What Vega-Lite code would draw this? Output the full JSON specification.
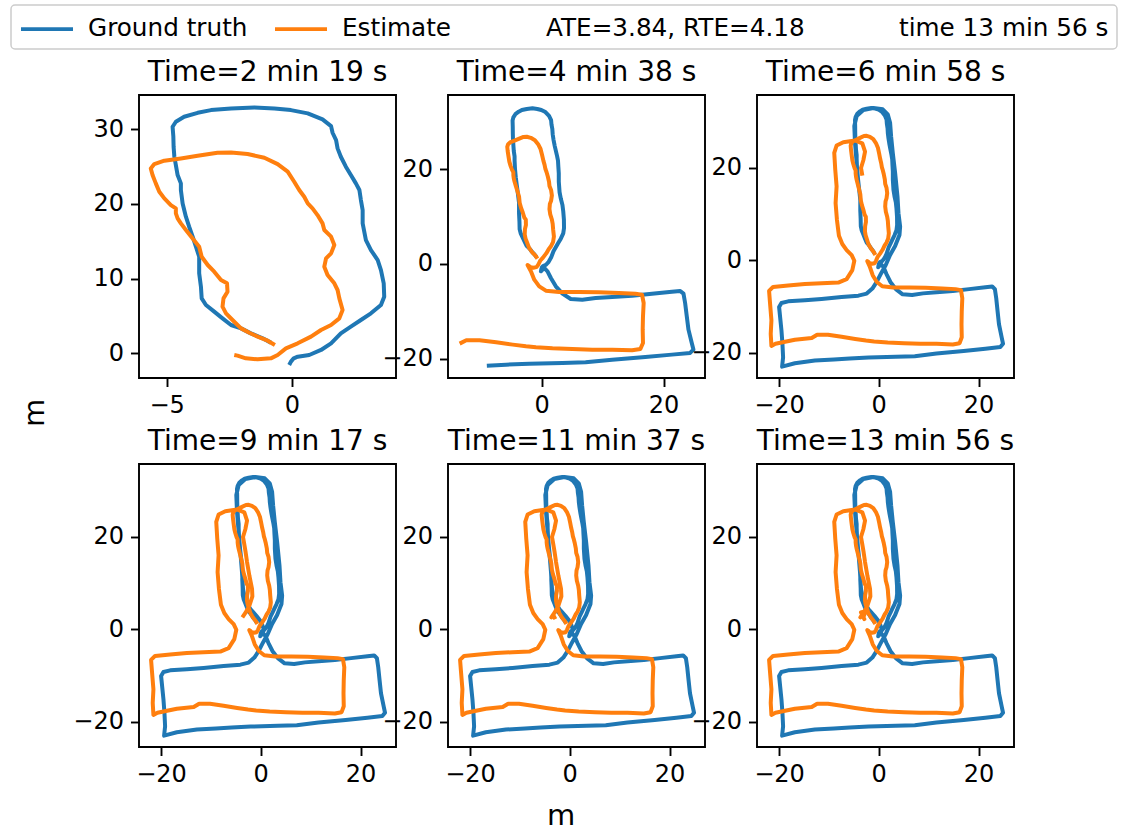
{
  "$schema": "https://vega.github.io/schema/vega-lite/v6.json",
  "padding": {"left": 10, "top": 4, "right": 5, "bottom": 4},
  "background": "white",
  "datasets": {
    "trajectories": [
      {"series":"Ground truth","t":0,"x":-0.84,"y":1.43},
      {"series":"Ground truth","t":2,"x":-1.17,"y":2.01},
      {"series":"Ground truth","t":4,"x":-1.64,"y":2.67},
      {"series":"Ground truth","t":6,"x":-2.03,"y":3.34},
      {"series":"Ground truth","t":8,"x":-2.43,"y":3.79},
      {"series":"Ground truth","t":10,"x":-2.77,"y":4.68},
      {"series":"Ground truth","t":12,"x":-3.10,"y":5.57},
      {"series":"Ground truth","t":14,"x":-3.43,"y":6.46},
      {"series":"Ground truth","t":16,"x":-3.60,"y":7.35},
      {"series":"Ground truth","t":18,"x":-3.63,"y":8.91},
      {"series":"Ground truth","t":20,"x":-3.70,"y":10.70},
      {"series":"Ground truth","t":22,"x":-3.70,"y":12.92},
      {"series":"Ground truth","t":24,"x":-3.83,"y":14.26},
      {"series":"Ground truth","t":26,"x":-3.96,"y":15.60},
      {"series":"Ground truth","t":28,"x":-4.10,"y":16.93},
      {"series":"Ground truth","t":30,"x":-4.23,"y":18.27},
      {"series":"Ground truth","t":32,"x":-4.36,"y":20.05},
      {"series":"Ground truth","t":34,"x":-4.43,"y":21.84},
      {"series":"Ground truth","t":36,"x":-4.43,"y":22.73},
      {"series":"Ground truth","t":38,"x":-4.56,"y":23.84},
      {"series":"Ground truth","t":40,"x":-4.63,"y":25.18},
      {"series":"Ground truth","t":42,"x":-4.69,"y":26.29},
      {"series":"Ground truth","t":44,"x":-4.72,"y":27.63},
      {"series":"Ground truth","t":46,"x":-4.73,"y":28.97},
      {"series":"Ground truth","t":48,"x":-4.76,"y":30.30},
      {"series":"Ground truth","t":50,"x":-4.63,"y":30.97},
      {"series":"Ground truth","t":52,"x":-4.30,"y":31.64},
      {"series":"Ground truth","t":54,"x":-3.76,"y":32.17},
      {"series":"Ground truth","t":56,"x":-3.23,"y":32.53},
      {"series":"Ground truth","t":58,"x":-2.43,"y":32.75},
      {"series":"Ground truth","t":60,"x":-1.50,"y":32.89},
      {"series":"Ground truth","t":62,"x":-0.70,"y":32.75},
      {"series":"Ground truth","t":64,"x":-0.04,"y":32.53},
      {"series":"Ground truth","t":66,"x":0.63,"y":32.09},
      {"series":"Ground truth","t":68,"x":1.22,"y":31.28},
      {"series":"Ground truth","t":70,"x":1.56,"y":30.39},
      {"series":"Ground truth","t":72,"x":1.62,"y":29.50},
      {"series":"Ground truth","t":74,"x":1.76,"y":28.52},
      {"series":"Ground truth","t":76,"x":1.82,"y":27.41},
      {"series":"Ground truth","t":78,"x":1.95,"y":26.29},
      {"series":"Ground truth","t":80,"x":2.15,"y":24.96},
      {"series":"Ground truth","t":82,"x":2.35,"y":23.84},
      {"series":"Ground truth","t":84,"x":2.55,"y":22.73},
      {"series":"Ground truth","t":86,"x":2.69,"y":21.84},
      {"series":"Ground truth","t":88,"x":2.75,"y":20.50},
      {"series":"Ground truth","t":90,"x":2.82,"y":19.16},
      {"series":"Ground truth","t":92,"x":2.82,"y":17.38},
      {"series":"Ground truth","t":94,"x":2.95,"y":15.15},
      {"series":"Ground truth","t":96,"x":3.15,"y":13.81},
      {"series":"Ground truth","t":98,"x":3.42,"y":12.48},
      {"series":"Ground truth","t":100,"x":3.55,"y":11.14},
      {"series":"Ground truth","t":102,"x":3.66,"y":9.36},
      {"series":"Ground truth","t":104,"x":3.68,"y":7.58},
      {"series":"Ground truth","t":106,"x":3.55,"y":6.46},
      {"series":"Ground truth","t":108,"x":3.15,"y":5.35},
      {"series":"Ground truth","t":110,"x":2.75,"y":4.46},
      {"series":"Ground truth","t":112,"x":2.35,"y":3.57},
      {"series":"Ground truth","t":114,"x":1.95,"y":2.67},
      {"series":"Ground truth","t":116,"x":1.56,"y":1.34},
      {"series":"Ground truth","t":118,"x":1.16,"y":0.45},
      {"series":"Ground truth","t":120,"x":0.69,"y":-0.22},
      {"series":"Ground truth","t":122,"x":0.23,"y":-0.45},
      {"series":"Ground truth","t":124,"x":0.07,"y":-0.67},
      {"series":"Ground truth","t":126,"x":-0.04,"y":-1.11},
      {"series":"Ground truth","t":128,"x":-0.11,"y":-1.56},
      {"series":"Ground truth","t":140,"x":0.43,"y":-0.85},
      {"series":"Ground truth","t":145,"x":0.97,"y":-1.56},
      {"series":"Ground truth","t":150,"x":1.52,"y":-2.97},
      {"series":"Ground truth","t":155,"x":2.33,"y":-4.73},
      {"series":"Ground truth","t":160,"x":3.42,"y":-6.28},
      {"series":"Ground truth","t":165,"x":4.78,"y":-7.41},
      {"series":"Ground truth","t":170,"x":6.68,"y":-7.55},
      {"series":"Ground truth","t":175,"x":8.86,"y":-7.20},
      {"series":"Ground truth","t":180,"x":11.58,"y":-6.98},
      {"series":"Ground truth","t":185,"x":14.84,"y":-6.70},
      {"series":"Ground truth","t":190,"x":18.10,"y":-6.28},
      {"series":"Ground truth","t":195,"x":21.37,"y":-5.86},
      {"series":"Ground truth","t":200,"x":22.73,"y":-5.71},
      {"series":"Ground truth","t":205,"x":23.27,"y":-6.28},
      {"series":"Ground truth","t":210,"x":23.54,"y":-8.25},
      {"series":"Ground truth","t":215,"x":23.81,"y":-11.06},
      {"series":"Ground truth","t":220,"x":24.09,"y":-13.88},
      {"series":"Ground truth","t":225,"x":24.63,"y":-16.70},
      {"series":"Ground truth","t":230,"x":24.90,"y":-18.10},
      {"series":"Ground truth","t":235,"x":24.36,"y":-18.81},
      {"series":"Ground truth","t":240,"x":21.37,"y":-19.16},
      {"series":"Ground truth","t":245,"x":17.01,"y":-19.65},
      {"series":"Ground truth","t":250,"x":11.57,"y":-20.22},
      {"series":"Ground truth","t":255,"x":7.22,"y":-20.78},
      {"series":"Ground truth","t":260,"x":3.42,"y":-20.92},
      {"series":"Ground truth","t":265,"x":-2.02,"y":-21.07},
      {"series":"Ground truth","t":268,"x":-5.83,"y":-21.28},
      {"series":"Ground truth","t":270,"x":-8.98,"y":-21.49},
      {"series":"Ground truth","t":280,"x":-12.80,"y":-21.73},
      {"series":"Ground truth","t":283,"x":-16.82,"y":-22.31},
      {"series":"Ground truth","t":286,"x":-19.37,"y":-23.04},
      {"series":"Ground truth","t":289,"x":-19.17,"y":-21.01},
      {"series":"Ground truth","t":292,"x":-19.30,"y":-18.12},
      {"series":"Ground truth","t":295,"x":-19.50,"y":-15.21},
      {"series":"Ground truth","t":298,"x":-19.77,"y":-12.32},
      {"series":"Ground truth","t":301,"x":-19.97,"y":-10.14},
      {"series":"Ground truth","t":304,"x":-19.50,"y":-9.28},
      {"series":"Ground truth","t":307,"x":-18.16,"y":-8.92},
      {"series":"Ground truth","t":310,"x":-14.81,"y":-8.69},
      {"series":"Ground truth","t":313,"x":-11.46,"y":-8.41},
      {"series":"Ground truth","t":316,"x":-7.44,"y":-7.98},
      {"series":"Ground truth","t":319,"x":-4.09,"y":-7.69},
      {"series":"Ground truth","t":322,"x":-2.42,"y":-7.25},
      {"series":"Ground truth","t":325,"x":-1.28,"y":-6.16},
      {"series":"Ground truth","t":328,"x":-0.41,"y":-4.72},
      {"series":"Ground truth","t":331,"x":0.46,"y":-2.89},
      {"series":"Ground truth","t":334,"x":1.40,"y":-1.08},
      {"series":"Ground truth","t":337,"x":2.27,"y":1.09},
      {"series":"Ground truth","t":340,"x":3.28,"y":3.04},
      {"series":"Ground truth","t":343,"x":4.15,"y":5.43},
      {"series":"Ground truth","t":346,"x":4.28,"y":7.24},
      {"series":"Ground truth","t":349,"x":3.95,"y":10.14},
      {"series":"Ground truth","t":352,"x":3.75,"y":13.76},
      {"series":"Ground truth","t":355,"x":3.28,"y":18.83},
      {"series":"Ground truth","t":358,"x":2.81,"y":23.18},
      {"series":"Ground truth","t":361,"x":2.47,"y":26.80},
      {"series":"Ground truth","t":364,"x":2.27,"y":29.70},
      {"series":"Ground truth","t":367,"x":1.80,"y":31.51},
      {"series":"Ground truth","t":370,"x":0.80,"y":32.60},
      {"series":"Ground truth","t":373,"x":-1.08,"y":32.89},
      {"series":"Ground truth","t":376,"x":-3.09,"y":32.46},
      {"series":"Ground truth","t":379,"x":-4.43,"y":31.15},
      {"series":"Ground truth","t":382,"x":-4.90,"y":28.98},
      {"series":"Ground truth","t":385,"x":-4.76,"y":25.36},
      {"series":"Ground truth","t":388,"x":-4.43,"y":21.01},
      {"series":"Ground truth","t":391,"x":-4.09,"y":16.67},
      {"series":"Ground truth","t":420,"x":-3.76,"y":12.31},
      {"series":"Ground truth","t":435,"x":-3.56,"y":8.69},
      {"series":"Ground truth","t":450,"x":-3.09,"y":6.15},
      {"series":"Ground truth","t":465,"x":-2.08,"y":4.34},
      {"series":"Ground truth","t":480,"x":-0.88,"y":2.89},
      {"series":"Ground truth","t":495,"x":0.06,"y":1.59},
      {"series":"Ground truth","t":510,"x":0.60,"y":-0.01},
      {"series":"Ground truth","t":525,"x":0.26,"y":-1.44},

      {"series":"Estimate","t":0,"x":-0.68,"y":1.11},
      {"series":"Estimate","t":2,"x":-0.97,"y":1.69},
      {"series":"Estimate","t":4,"x":-1.37,"y":2.23},
      {"series":"Estimate","t":6,"x":-1.70,"y":2.76},
      {"series":"Estimate","t":8,"x":-2.03,"y":3.34},
      {"series":"Estimate","t":10,"x":-2.17,"y":3.79},
      {"series":"Estimate","t":12,"x":-2.37,"y":4.46},
      {"series":"Estimate","t":14,"x":-2.63,"y":5.35},
      {"series":"Estimate","t":16,"x":-2.77,"y":6.24},
      {"series":"Estimate","t":18,"x":-2.73,"y":7.35},
      {"series":"Estimate","t":20,"x":-2.57,"y":8.24},
      {"series":"Estimate","t":22,"x":-2.59,"y":9.36},
      {"series":"Estimate","t":24,"x":-2.83,"y":9.80},
      {"series":"Estimate","t":26,"x":-3.10,"y":10.92},
      {"series":"Estimate","t":28,"x":-3.36,"y":11.81},
      {"series":"Estimate","t":30,"x":-3.60,"y":12.92},
      {"series":"Estimate","t":32,"x":-3.70,"y":14.26},
      {"series":"Estimate","t":34,"x":-3.96,"y":15.37},
      {"series":"Estimate","t":36,"x":-4.23,"y":16.49},
      {"series":"Estimate","t":38,"x":-4.43,"y":17.38},
      {"series":"Estimate","t":40,"x":-4.56,"y":18.05},
      {"series":"Estimate","t":42,"x":-4.63,"y":18.72},
      {"series":"Estimate","t":44,"x":-4.63,"y":19.39},
      {"series":"Estimate","t":46,"x":-4.83,"y":19.83},
      {"series":"Estimate","t":48,"x":-5.09,"y":20.72},
      {"series":"Estimate","t":50,"x":-5.29,"y":21.61},
      {"series":"Estimate","t":52,"x":-5.43,"y":22.73},
      {"series":"Estimate","t":54,"x":-5.56,"y":23.84},
      {"series":"Estimate","t":56,"x":-5.63,"y":24.73},
      {"series":"Estimate","t":58,"x":-5.49,"y":25.31},
      {"series":"Estimate","t":60,"x":-5.09,"y":25.76},
      {"series":"Estimate","t":62,"x":-4.43,"y":26.07},
      {"series":"Estimate","t":64,"x":-3.76,"y":26.43},
      {"series":"Estimate","t":66,"x":-2.97,"y":26.83},
      {"series":"Estimate","t":68,"x":-2.43,"y":26.87},
      {"series":"Estimate","t":70,"x":-1.77,"y":26.65},
      {"series":"Estimate","t":72,"x":-1.10,"y":26.16},
      {"series":"Estimate","t":74,"x":-0.57,"y":25.31},
      {"series":"Estimate","t":76,"x":-0.17,"y":24.29},
      {"series":"Estimate","t":78,"x":0.09,"y":22.95},
      {"series":"Estimate","t":80,"x":0.29,"y":21.84},
      {"series":"Estimate","t":82,"x":0.49,"y":20.94},
      {"series":"Estimate","t":84,"x":0.63,"y":20.05},
      {"series":"Estimate","t":86,"x":0.82,"y":19.39},
      {"series":"Estimate","t":88,"x":1.02,"y":18.49},
      {"series":"Estimate","t":90,"x":1.22,"y":17.38},
      {"series":"Estimate","t":92,"x":1.29,"y":16.49},
      {"series":"Estimate","t":94,"x":1.56,"y":15.60},
      {"series":"Estimate","t":96,"x":1.69,"y":14.48},
      {"series":"Estimate","t":98,"x":1.56,"y":13.37},
      {"series":"Estimate","t":100,"x":1.36,"y":12.70},
      {"series":"Estimate","t":102,"x":1.29,"y":11.59},
      {"series":"Estimate","t":104,"x":1.42,"y":10.47},
      {"series":"Estimate","t":106,"x":1.69,"y":9.36},
      {"series":"Estimate","t":108,"x":1.82,"y":8.47},
      {"series":"Estimate","t":110,"x":1.89,"y":7.35},
      {"series":"Estimate","t":112,"x":2.02,"y":5.79},
      {"series":"Estimate","t":114,"x":1.89,"y":4.68},
      {"series":"Estimate","t":116,"x":1.56,"y":3.79},
      {"series":"Estimate","t":118,"x":1.16,"y":3.12},
      {"series":"Estimate","t":120,"x":0.76,"y":2.23},
      {"series":"Estimate","t":122,"x":0.23,"y":1.34},
      {"series":"Estimate","t":124,"x":-0.24,"y":0.67},
      {"series":"Estimate","t":126,"x":-0.57,"y":-0.22},
      {"series":"Estimate","t":128,"x":-0.84,"y":-0.67},
      {"series":"Estimate","t":130,"x":-1.37,"y":-0.80},
      {"series":"Estimate","t":132,"x":-1.84,"y":-0.67},
      {"series":"Estimate","t":134,"x":-2.17,"y":-0.31},
      {"series":"Estimate","t":136,"x":-2.30,"y":-0.22},
      {"series":"Estimate","t":140,"x":-1.75,"y":-1.56},
      {"series":"Estimate","t":145,"x":-1.20,"y":-3.32},
      {"series":"Estimate","t":150,"x":-0.39,"y":-4.73},
      {"series":"Estimate","t":155,"x":0.70,"y":-5.65},
      {"series":"Estimate","t":160,"x":2.87,"y":-5.93},
      {"series":"Estimate","t":165,"x":6.14,"y":-5.93},
      {"series":"Estimate","t":170,"x":9.40,"y":-6.00},
      {"series":"Estimate","t":175,"x":12.66,"y":-6.14},
      {"series":"Estimate","t":180,"x":15.38,"y":-6.28},
      {"series":"Estimate","t":185,"x":16.47,"y":-6.50},
      {"series":"Estimate","t":190,"x":16.74,"y":-8.25},
      {"series":"Estimate","t":195,"x":16.63,"y":-11.06},
      {"series":"Estimate","t":200,"x":16.58,"y":-13.88},
      {"series":"Estimate","t":205,"x":16.63,"y":-16.70},
      {"series":"Estimate","t":210,"x":16.20,"y":-17.97},
      {"series":"Estimate","t":215,"x":14.84,"y":-18.25},
      {"series":"Estimate","t":220,"x":11.58,"y":-18.11},
      {"series":"Estimate","t":225,"x":8.31,"y":-18.11},
      {"series":"Estimate","t":230,"x":5.05,"y":-17.97},
      {"series":"Estimate","t":235,"x":1.79,"y":-17.82},
      {"series":"Estimate","t":240,"x":-0.93,"y":-17.61},
      {"series":"Estimate","t":245,"x":-2.56,"y":-17.40},
      {"series":"Estimate","t":250,"x":-4.73,"y":-17.05},
      {"series":"Estimate","t":255,"x":-7.45,"y":-16.56},
      {"series":"Estimate","t":260,"x":-10.18,"y":-16.13},
      {"series":"Estimate","t":265,"x":-12.35,"y":-16.13},
      {"series":"Estimate","t":270,"x":-13.44,"y":-16.84},
      {"series":"Estimate","t":280,"x":-16.82,"y":-17.24},
      {"series":"Estimate","t":284,"x":-20.71,"y":-18.11},
      {"series":"Estimate","t":288,"x":-21.51,"y":-18.56},
      {"series":"Estimate","t":292,"x":-21.65,"y":-15.94},
      {"series":"Estimate","t":296,"x":-21.51,"y":-13.04},
      {"series":"Estimate","t":300,"x":-21.78,"y":-9.41},
      {"series":"Estimate","t":304,"x":-21.98,"y":-6.67},
      {"series":"Estimate","t":308,"x":-21.18,"y":-5.80},
      {"series":"Estimate","t":312,"x":-18.16,"y":-5.51},
      {"series":"Estimate","t":316,"x":-14.81,"y":-5.15},
      {"series":"Estimate","t":320,"x":-11.46,"y":-5.01},
      {"series":"Estimate","t":324,"x":-8.11,"y":-4.86},
      {"series":"Estimate","t":328,"x":-6.44,"y":-4.13},
      {"series":"Estimate","t":332,"x":-5.30,"y":-2.17},
      {"series":"Estimate","t":336,"x":-4.90,"y":-0.15},
      {"series":"Estimate","t":340,"x":-5.43,"y":1.08},
      {"series":"Estimate","t":344,"x":-6.44,"y":2.17},
      {"series":"Estimate","t":348,"x":-7.31,"y":3.47},
      {"series":"Estimate","t":352,"x":-7.98,"y":5.28},
      {"series":"Estimate","t":356,"x":-8.38,"y":8.69},
      {"series":"Estimate","t":360,"x":-8.65,"y":12.31},
      {"series":"Estimate","t":364,"x":-8.45,"y":15.94},
      {"series":"Estimate","t":368,"x":-8.72,"y":19.56},
      {"series":"Estimate","t":372,"x":-8.92,"y":23.18},
      {"series":"Estimate","t":376,"x":-8.45,"y":24.78},
      {"series":"Estimate","t":380,"x":-7.11,"y":25.50},
      {"series":"Estimate","t":384,"x":-4.76,"y":25.86},
      {"series":"Estimate","t":388,"x":-3.29,"y":25.22},
      {"series":"Estimate","t":392,"x":-2.75,"y":23.47},
      {"series":"Estimate","t":396,"x":-3.09,"y":21.59},
      {"series":"Estimate","t":400,"x":-3.56,"y":19.92},
      {"series":"Estimate","t":404,"x":-3.29,"y":18.26},
      {"series":"Estimate","t":420,"x":-3.02,"y":16.52},
      {"series":"Estimate","t":435,"x":-2.75,"y":14.49},
      {"series":"Estimate","t":450,"x":-2.29,"y":11.59},
      {"series":"Estimate","t":465,"x":-1.75,"y":8.69},
      {"series":"Estimate","t":480,"x":-1.68,"y":7.09},
      {"series":"Estimate","t":495,"x":-2.28,"y":5.07},
      {"series":"Estimate","t":510,"x":-3.02,"y":3.62},
      {"series":"Estimate","t":525,"x":-3.69,"y":2.53},
      {"series":"Estimate","t":580,"x":-3.29,"y":3.04},
      {"series":"Estimate","t":620,"x":-2.89,"y":2.17},
      {"series":"Estimate","t":720,"x":-3.56,"y":3.62},
      {"series":"Estimate","t":760,"x":-2.62,"y":3.91},
      {"series":"Estimate","t":800,"x":-3.16,"y":2.31}
    ]
  },
  "config": {
    "font": "DejaVu Sans",
    "view": {"stroke": "black", "strokeWidth": 1.9},
    "axis": {
      "domain": false,
      "grid": false,
      "ticks": true,
      "tickSize": 8.5,
      "tickWidth": 1.9,
      "tickColor": "black",
      "labelFont": "DejaVu Sans",
      "labelFontSize": 24,
      "labelColor": "black",
      "labelPadding": 7,
      "labelFlush": false,
      "labelOverlap": false,
      "title": null
    },
    "title": {"font": "DejaVu Sans", "fontSize": 28, "fontWeight": "normal", "color": "black", "offset": 8},
    "legend": {
      "orient": "none",
      "legendX": -128,
      "legendY": -90,
      "direction": "horizontal",
      "title": null,
      "symbolType": "M-1,0H2.714",
      "symbolSize": 784,
      "symbolStrokeWidth": 3.8,
      "labelFont": "DejaVu Sans",
      "labelFontSize": 24.7,
      "labelColor": "black",
      "labelOffset": 37,
      "labelLimit": 500,
      "columnPadding": 19,
      "padding": 8,
      "strokeColor": "#cccccc",
      "strokeWidth": 1.5,
      "fillColor": "white",
      "cornerRadius": 4
    }
  },
  "vconcat": [
    {
      "title": {"text": "m", "orient": "bottom", "anchor": "middle", "fontSize": 29, "offset": 15, "dx": 43},
      "vconcat": [
        {
          "title": {"text": "m", "orient": "left", "anchor": "middle", "fontSize": 29, "offset": 22, "dx": 10},
          "columns": 3,
          "bounds": "flush",
          "spacing": {"row": 86, "column": 52},
          "concat": [
            {
              "title": "Time=2 min 19 s",
              "width": 257, "height": 283,
              "data": {"name": "trajectories"},
              "transform": [{"filter": "datum.t <= 139"}],
              "mark": {"type": "line", "strokeWidth": 4, "strokeJoin": "round", "clip": true},
              "encoding": {
                "x": {"field": "x", "type": "quantitative", "scale": {"domain": [-6.1, 4.15], "nice": false, "zero": false}, "axis": {"values": [-5, 0]}},
                "y": {"field": "y", "type": "quantitative", "scale": {"domain": [-3.3, 34.55], "nice": false, "zero": false}, "axis": {"values": [0, 10, 20, 30]}},
                "color": {"field": "series", "type": "nominal", "scale": {"domain": ["Ground truth", "Estimate", "ATE=3.84, RTE=4.18", "time 13 min 56 s"], "range": ["#1f77b4", "#ff7f0e", "transparent", "transparent"]}},
                "order": {"field": "t", "type": "quantitative"}
              }
            },
            {
              "title": "Time=4 min 38 s",
              "width": 257, "height": 283,
              "data": {"name": "trajectories"},
              "transform": [{"filter": "datum.t <= 278"}],
              "mark": {"type": "line", "strokeWidth": 4, "strokeJoin": "round", "clip": true},
              "encoding": {
                "x": {"field": "x", "type": "quantitative", "scale": {"domain": [-15.35, 26.8], "nice": false, "zero": false}, "axis": {"values": [-20, 0, 20]}},
                "y": {"field": "y", "type": "quantitative", "scale": {"domain": [-24.1, 35.7], "nice": false, "zero": false}, "axis": {"values": [-20, 0, 20]}},
                "color": {"field": "series", "type": "nominal", "scale": {"domain": ["Ground truth", "Estimate", "ATE=3.84, RTE=4.18", "time 13 min 56 s"], "range": ["#1f77b4", "#ff7f0e", "transparent", "transparent"]}},
                "order": {"field": "t", "type": "quantitative"}
              }
            },
            {
              "title": "Time=6 min 58 s",
              "width": 257, "height": 283,
              "data": {"name": "trajectories"},
              "transform": [{"filter": "datum.t <= 418"}],
              "mark": {"type": "line", "strokeWidth": 4, "strokeJoin": "round", "clip": true},
              "encoding": {
                "x": {"field": "x", "type": "quantitative", "scale": {"domain": [-24.4, 27.1], "nice": false, "zero": false}, "axis": {"values": [-20, 0, 20]}},
                "y": {"field": "y", "type": "quantitative", "scale": {"domain": [-25.5, 35.7], "nice": false, "zero": false}, "axis": {"values": [-20, 0, 20]}},
                "color": {"field": "series", "type": "nominal", "scale": {"domain": ["Ground truth", "Estimate", "ATE=3.84, RTE=4.18", "time 13 min 56 s"], "range": ["#1f77b4", "#ff7f0e", "transparent", "transparent"]}},
                "order": {"field": "t", "type": "quantitative"}
              }
            },
            {
              "title": "Time=9 min 17 s",
              "width": 257, "height": 283,
              "data": {"name": "trajectories"},
              "transform": [{"filter": "datum.t <= 557"}],
              "mark": {"type": "line", "strokeWidth": 4, "strokeJoin": "round", "clip": true},
              "encoding": {
                "x": {"field": "x", "type": "quantitative", "scale": {"domain": [-24.4, 27.1], "nice": false, "zero": false}, "axis": {"values": [-20, 0, 20]}},
                "y": {"field": "y", "type": "quantitative", "scale": {"domain": [-25.5, 35.7], "nice": false, "zero": false}, "axis": {"values": [-20, 0, 20]}},
                "color": {"field": "series", "type": "nominal", "scale": {"domain": ["Ground truth", "Estimate", "ATE=3.84, RTE=4.18", "time 13 min 56 s"], "range": ["#1f77b4", "#ff7f0e", "transparent", "transparent"]}},
                "order": {"field": "t", "type": "quantitative"}
              }
            },
            {
              "title": "Time=11 min 37 s",
              "width": 257, "height": 283,
              "data": {"name": "trajectories"},
              "transform": [{"filter": "datum.t <= 697"}],
              "mark": {"type": "line", "strokeWidth": 4, "strokeJoin": "round", "clip": true},
              "encoding": {
                "x": {"field": "x", "type": "quantitative", "scale": {"domain": [-24.4, 27.1], "nice": false, "zero": false}, "axis": {"values": [-20, 0, 20]}},
                "y": {"field": "y", "type": "quantitative", "scale": {"domain": [-25.5, 35.7], "nice": false, "zero": false}, "axis": {"values": [-20, 0, 20]}},
                "color": {"field": "series", "type": "nominal", "scale": {"domain": ["Ground truth", "Estimate", "ATE=3.84, RTE=4.18", "time 13 min 56 s"], "range": ["#1f77b4", "#ff7f0e", "transparent", "transparent"]}},
                "order": {"field": "t", "type": "quantitative"}
              }
            },
            {
              "title": "Time=13 min 56 s",
              "width": 257, "height": 283,
              "data": {"name": "trajectories"},
              "transform": [{"filter": "datum.t <= 836"}],
              "mark": {"type": "line", "strokeWidth": 4, "strokeJoin": "round", "clip": true},
              "encoding": {
                "x": {"field": "x", "type": "quantitative", "scale": {"domain": [-24.4, 27.1], "nice": false, "zero": false}, "axis": {"values": [-20, 0, 20]}},
                "y": {"field": "y", "type": "quantitative", "scale": {"domain": [-25.5, 35.7], "nice": false, "zero": false}, "axis": {"values": [-20, 0, 20]}},
                "color": {"field": "series", "type": "nominal", "scale": {"domain": ["Ground truth", "Estimate", "ATE=3.84, RTE=4.18", "time 13 min 56 s"], "range": ["#1f77b4", "#ff7f0e", "transparent", "transparent"]}},
                "order": {"field": "t", "type": "quantitative"}
              }
            }
          ]
        }
      ]
    }
  ]
}
